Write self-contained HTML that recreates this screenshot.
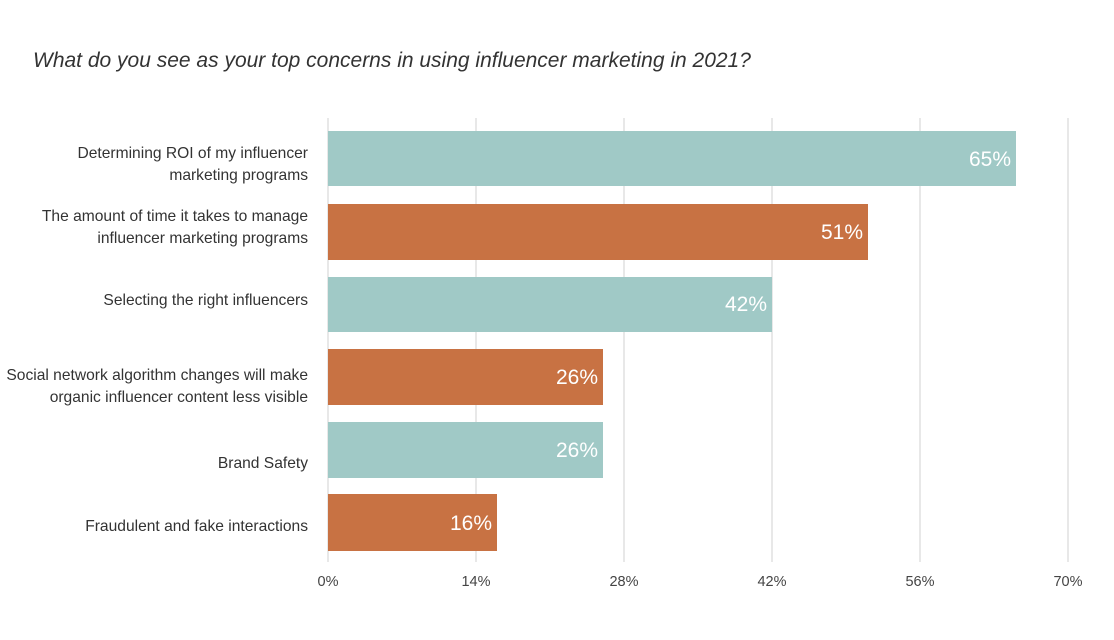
<!DOCTYPE html>
<html><head><meta charset="utf-8"><style>
html,body{margin:0;padding:0;background:#fff;}
svg{display:block;font-family:"Liberation Sans",sans-serif;}
</style></head><body>
<svg width="1114" height="640" viewBox="0 0 1114 640">
<rect width="1114" height="640" fill="#fff"/>
<text x="33" y="67" font-size="21" font-style="italic" fill="#333">What do you see as your top concerns in using influencer marketing in 2021?</text>
<g stroke="#dcdcdc" stroke-width="1.3">
<line x1="328" y1="118" x2="328" y2="562"/>
<line x1="476" y1="118" x2="476" y2="562"/>
<line x1="624" y1="118" x2="624" y2="562"/>
<line x1="772" y1="118" x2="772" y2="562"/>
<line x1="920" y1="118" x2="920" y2="562"/>
<line x1="1068" y1="118" x2="1068" y2="562"/>
</g>
<g>
<rect x="328" y="131" width="688" height="55" fill="#a0c9c6"/>
<rect x="328" y="204" width="540" height="56" fill="#c87243"/>
<rect x="328" y="277" width="444" height="55" fill="#a0c9c6"/>
<rect x="328" y="349" width="275" height="56" fill="#c87243"/>
<rect x="328" y="422" width="275" height="56" fill="#a0c9c6"/>
<rect x="328" y="494" width="169" height="57" fill="#c87243"/>
</g>
<g fill="#fff" font-size="21" text-anchor="end">
<text x="1011" y="166">65%</text>
<text x="863" y="239">51%</text>
<text x="767" y="311">42%</text>
<text x="598" y="384">26%</text>
<text x="598" y="457">26%</text>
<text x="492" y="530">16%</text>
</g>
<g fill="#333" font-size="15.6" text-anchor="end">
<text x="308" y="158">Determining ROI of my influencer</text>
<text x="308" y="180">marketing programs</text>
<text x="308" y="221">The amount of time it takes to manage</text>
<text x="308" y="243">influencer marketing programs</text>
<text x="308" y="305">Selecting the right influencers</text>
<text x="308" y="380">Social network algorithm changes will make</text>
<text x="308" y="402">organic influencer content less visible</text>
<text x="308" y="468">Brand Safety</text>
<text x="308" y="531">Fraudulent and fake interactions</text>
</g>
<g fill="#444" font-size="14.5" text-anchor="middle">
<text x="328" y="586">0%</text>
<text x="476" y="586">14%</text>
<text x="624" y="586">28%</text>
<text x="772" y="586">42%</text>
<text x="920" y="586">56%</text>
<text x="1068" y="586">70%</text>
</g>
</svg>
</body></html>
